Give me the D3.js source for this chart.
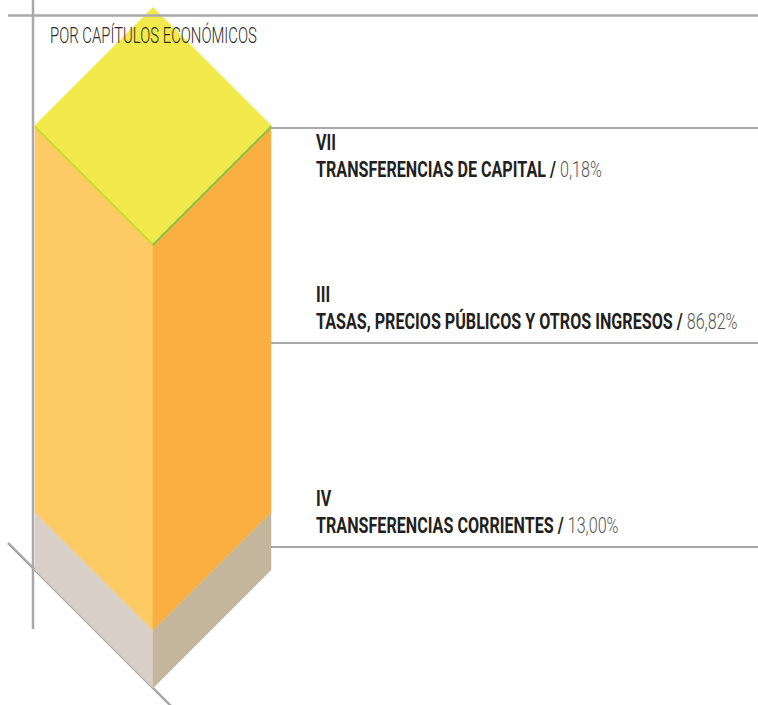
<!DOCTYPE html>
<html>
<head>
<meta charset="utf-8">
<script src="https://cdnjs.cloudflare.com/ajax/libs/d3/7.8.5/d3.min.js"></script>
<style>
  html, body { margin: 0; padding: 0; background: #fff; }
  svg { display: block; }
  text { font-family: Roboto, "Liberation Sans Narrow", "DejaVu Sans Condensed", sans-serif; }
</style>
</head>
<body>
<svg id="chart" width="758" height="705"></svg>
<script>
// data
const chapters = ["VII", "III", "IV"];
const names    = ["TRANSFERENCIAS DE CAPITAL", "TASAS, PRECIOS PÚBLICOS Y OTROS INGRESOS", "TRANSFERENCIAS CORRIENTES"];
const shares   = [0.18, 86.82, 13.00];
const subtitle = "POR CAPÍTULOS ECONÓMICOS";

// colours per chapter: [left face, right face]
const faceColors = {
  "VII": ["#c9dc2c", "#8dc641"],
  "III": ["#fdca64", "#fbaf41"],
  "IV":  ["#d9cfc6", "#c4b69c"]
};
const capColor  = "#f2e94b";
const lineColor = "#a9a9ac";

const svg = d3.select("#chart");
const W = +svg.attr("width");

// prism geometry
const xL = 35, xC = 153, xR = 271;
const d  = xC - xL;              // 45° drop from side to centre
const y  = d3.scaleLinear().domain([0, 100]).range([570, 125]);

const fmt = d3.formatLocale({ decimal: ",", thousands: ".", grouping: [3], currency: ["", "€"] }).format(".2f");

// stack from the bottom: IV, III, VII
const stack = [];
let acc = 0;
for (let i = chapters.length - 1; i >= 0; i--) {
  stack.push({ ch: chapters[i], a: acc, b: acc + shares[i] });
  acc += shares[i];
}

// guide lines behind prism
const guides = svg.append("g").attr("stroke", lineColor).attr("stroke-width", 2.5).attr("fill", "none");
guides.append("line").attr("x1", 33).attr("y1", 0).attr("x2", 33).attr("y2", 629);
guides.append("line").attr("x1", 8).attr("y1", 543).attr("x2", 8 + 170).attr("y2", 543 + 170);

// faces
const prism = svg.append("g");
stack.forEach(s => {
  let y0 = y(s.a), y1 = y(s.b);
  if (y0 - y1 < 3) y0 = y1 + 3;   // keep the thin slice visible
  const [cl, cr] = faceColors[s.ch];
  prism.append("polygon")
    .attr("points", [[xL, y0], [xC, y0 + d], [xC, y1 + d], [xL, y1]].join(" "))
    .attr("fill", cl).attr("stroke", cl).attr("stroke-width", 0.5);
  prism.append("polygon")
    .attr("points", [[xC, y0 + d], [xR, y0], [xR, y1], [xC, y1 + d]].join(" "))
    .attr("fill", cr).attr("stroke", cr).attr("stroke-width", 0.5);
});

// top cap
const yt = y(100);
prism.append("polygon")
  .attr("points", [[xC, yt - d], [xR, yt], [xC, yt + d], [xL, yt]].join(" "))
  .attr("fill", capColor);

// top rule over everything
svg.append("line")
  .attr("x1", 8).attr("y1", 15.5).attr("x2", W).attr("y2", 15.5)
  .attr("stroke", lineColor).attr("stroke-width", 2.5);

// subtitle
const sub = svg.append("text")
  .attr("x", 0).attr("y", 43)
  .attr("fill", "#2a2a2a")
  .style("font-size", "22.5px").style("font-weight", 300)
  .text(subtitle);

// labels
const lineY  = [128, 343, 547];
const baseY  = [[150, 177], [302, 329], [506, 533]];
const labelX = 316;

svg.append("g").attr("stroke", lineColor).attr("stroke-width", 2)
  .selectAll("line").data(lineY).enter().append("line")
    .attr("x1", xR).attr("x2", W)
    .attr("y1", v => v).attr("y2", v => v);

const labels = svg.append("g").selectAll("g")
  .data(chapters).enter().append("g");

labels.append("text")
  .attr("class", "lab")
  .attr("y", (c, i) => baseY[i][0])
  .attr("fill", "#231f20")
  .style("font-size", "21.5px").style("font-weight", "bold")
  .text(c => c);

const l2 = labels.append("text")
  .attr("class", "lab")
  .attr("y", (c, i) => baseY[i][1])
  .style("font-size", "21.5px");
l2.append("tspan").attr("fill", "#231f20").style("font-weight", "bold")
  .text((c, i) => names[i] + " / ");
l2.append("tspan").attr("fill", "#555").style("font-weight", 300)
  .text((c, i) => fmt(shares[i]) + "%");

// condense the text to the narrow look of the original
const w0 = l2.node().getComputedTextLength();
const k  = 286 / w0;
svg.selectAll("text.lab").attr("transform", `translate(${labelX},0) scale(${k},1)`);

const ws = sub.node().getComputedTextLength();
sub.attr("transform", `translate(50,0) scale(${207 / ws},1)`);
</script>
</body>
</html>
